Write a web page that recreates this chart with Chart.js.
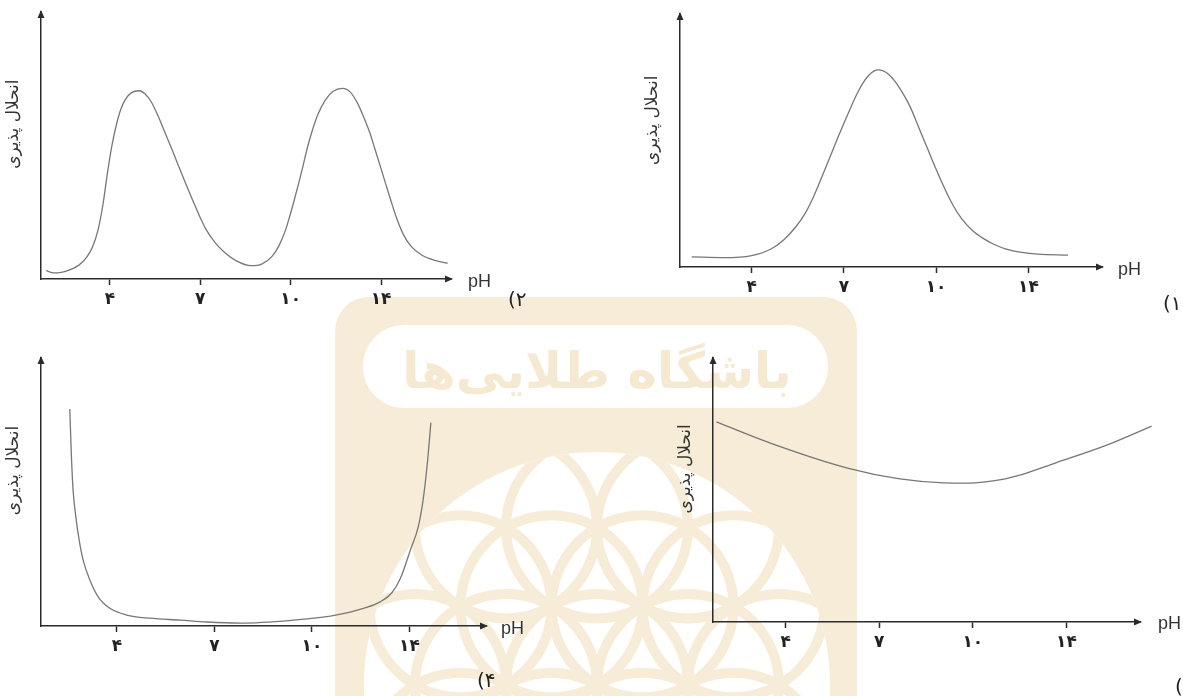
<!DOCTYPE html>
<html>
<head>
<meta charset="utf-8">
<script src="https://cdn.jsdelivr.net/npm/chart.js@4.4.1/dist/chart.umd.min.js"></script>
<style>
  html, body { margin: 0; padding: 0; background: #fff; }
  #stage { position: relative; width: 1183px; height: 696px; overflow: hidden; }
  #stage svg, #stage canvas { position: absolute; left: 0; top: 0; }
</style>
</head>
<body>
<div id="stage">
  <svg id="mark" width="1183" height="696" xmlns="http://www.w3.org/2000/svg">
    <defs><clipPath id="disk"><circle cx="597" cy="685" r="233"/></clipPath></defs>
    <rect x="335" y="297" width="522" height="460" rx="34" fill="#f7ecd7"/>
    <rect x="363" y="325" width="465" height="83" rx="41" fill="#fff"/>
    <text x="597" y="388" text-anchor="middle" direction="rtl" font-family="DejaVu Sans" font-weight="bold" font-size="50" fill="#f6e9d1">باشگاه طلایی‌ها</text>
    <circle cx="597" cy="685" r="233" fill="#fff"/>
    <g id="petals" clip-path="url(#disk)" fill="none" stroke="#f7ecd7" stroke-width="10"></g>
  </svg>
  <canvas id="c1" width="1183" height="696"></canvas>
  <canvas id="c2" width="1183" height="696"></canvas>
  <canvas id="c3" width="1183" height="696"></canvas>
  <canvas id="c4" width="1183" height="696"></canvas>
</div>
<script>
// x values are in tick steps: 0 = ۴, 1 = ۷, 2 = ۱۰, 3 = ۱۴ (ticks are evenly spaced)
const tickLabels = ['۴', '۷', '۱۰', '۱۴'];
const tickSteps = [0, 1, 2, 3];
const yTitle = 'انحلال پذیری';
const xTitle = 'pH';

// (۱) single peak
const p1X = [-0.65, -0.3, 0.0, 0.2, 0.35, 0.48, 0.58, 0.67, 0.76, 0.85, 0.95, 1.05, 1.13, 1.2, 1.27, 1.33, 1.37, 1.42, 1.48, 1.55, 1.63, 1.72, 1.81, 1.91, 2.0, 2.09, 2.18, 2.28, 2.4, 2.51, 2.63, 2.76, 2.93, 3.10, 3.43];
const p1Y = [4.0, 3.7, 4.5, 6.9, 10.8, 15.9, 21.2, 27.7, 35.5, 43.5, 52.5, 61.0, 67.5, 72.3, 75.8, 77.5, 77.9, 77.6, 76.3, 73.6, 69.2, 63.2, 55.3, 46.5, 38.6, 31.2, 24.6, 18.9, 14.2, 11.3, 8.9, 7.1, 5.8, 5.1, 4.7];

// (۲) two peaks
const p2X = [-0.705, -0.62, -0.553, -0.45, -0.343, -0.26, -0.191, -0.13, -0.076, -0.03, 0.02, 0.07, 0.12, 0.172, 0.24, 0.324, 0.39, 0.457, 0.53, 0.61, 0.69, 0.762, 0.84, 0.915, 0.99, 1.067, 1.16, 1.258, 1.40, 1.563, 1.68, 1.792, 1.87, 1.944, 1.99, 2.04, 2.09, 2.135, 2.18, 2.23, 2.30, 2.383, 2.47, 2.573, 2.66, 2.745, 2.81, 2.878, 2.935, 2.993, 3.05, 3.107, 3.17, 3.241, 3.33, 3.45, 3.584, 3.736];
const p2Y = [3.1, 2.3, 2.4, 3.3, 5.2, 8.0, 12.1, 18.5, 28.0, 39.0, 49.5, 57.5, 63.5, 67.3, 69.8, 70.5, 69.3, 66.4, 61.3, 54.8, 48.3, 42.1, 35.7, 29.6, 23.7, 18.4, 13.8, 10.3, 6.8, 5.0, 5.6, 8.4, 12.4, 18.4, 23.5, 29.6, 36.0, 42.1, 48.5, 54.6, 61.5, 67.0, 70.3, 71.4, 70.0, 65.5, 60.5, 54.6, 48.4, 42.1, 35.8, 29.6, 23.0, 17.1, 12.3, 9.0, 7.1, 5.9];

// (۳) shallow minimum
const p3X = [-0.74, -0.08, 0.66, 1.22, 1.69, 1.95, 2.3, 2.51, 2.88, 3.43, 3.91];
const p3Y = [75.8, 66.7, 58.3, 54.2, 52.7, 52.6, 53.9, 55.7, 60.2, 67.0, 74.2];

// (۴) U shape
const p4X = [-0.483, -0.466, -0.449, -0.421, -0.387, -0.346, -0.277, -0.192, -0.072, 0.10, 0.34, 0.65, 0.92, 1.27, 1.81, 2.19, 2.33, 2.53, 2.70, 2.82, 2.91, 3.01, 3.09, 3.14, 3.18, 3.22];
const p4Y = [81.0, 63.2, 50.7, 40.8, 32.1, 24.6, 17.2, 10.9, 6.6, 4.1, 2.9, 2.2, 1.5, 1.1, 2.2, 3.7, 4.7, 6.6, 9.0, 12.4, 18.0, 28.4, 37.0, 47.0, 59.4, 75.9];

// watermark flower (decoration only)
(function () {
  const g = document.getElementById('petals');
  const cx = 597, cy = 685, r = 91;
  const centres = [[0, 0]];
  for (let k = 0; k < 6; k++) {
    const a = k * Math.PI / 3, b = a + Math.PI / 6;
    centres.push([r * Math.cos(a), r * Math.sin(a)]);
    centres.push([2 * r * Math.cos(a), 2 * r * Math.sin(a)]);
    centres.push([Math.sqrt(3) * r * Math.cos(b), Math.sqrt(3) * r * Math.sin(b)]);
  }
  centres.forEach(([dx, dy]) => {
    const c = document.createElementNS('http://www.w3.org/2000/svg', 'circle');
    c.setAttribute('cx', cx + dx); c.setAttribute('cy', cy + dy); c.setAttribute('r', r);
    g.appendChild(c);
  });
  const dot = document.createElementNS('http://www.w3.org/2000/svg', 'circle');
  dot.setAttribute('cx', cx); dot.setAttribute('cy', cy); dot.setAttribute('r', 9);
  dot.setAttribute('fill', '#f7ecd7'); dot.setAttribute('stroke', 'none');
  g.appendChild(dot);
})();

const INK = '#2b2b2b';

const decor = {
  id: 'decor',
  afterDraw(chart, args, o) {
    const { ctx, chartArea: a } = chart;
    ctx.save();
    ctx.fillStyle = INK;
    // arrow heads
    ctx.beginPath();
    ctx.moveTo(a.left, a.top - 2);
    ctx.lineTo(a.left - 3.5, a.top + 6);
    ctx.lineTo(a.left + 3.5, a.top + 6);
    ctx.closePath();
    ctx.fill();
    ctx.beginPath();
    ctx.moveTo(a.right + 2, a.bottom);
    ctx.lineTo(a.right - 6, a.bottom - 3.5);
    ctx.lineTo(a.right - 6, a.bottom + 3.5);
    ctx.closePath();
    ctx.fill();
    // y title
    ctx.save();
    ctx.translate(a.left - 27, a.top + 0.42 * (a.bottom - a.top));
    ctx.rotate(-Math.PI / 2);
    ctx.direction = 'rtl';
    ctx.textAlign = 'center';
    ctx.textBaseline = 'middle';
    ctx.font = '17px "DejaVu Sans"';
    ctx.fillStyle = '#333';
    ctx.fillText(yTitle, 0, 0);
    ctx.restore();
    // pH
    ctx.direction = 'ltr';
    ctx.textAlign = 'left';
    ctx.textBaseline = 'middle';
    ctx.font = '18px "Liberation Sans"';
    ctx.fillStyle = '#333';
    ctx.fillText(xTitle, o.phX, o.phY);
    // panel number: bracket then digit, drawn left to right
    ctx.font = '20px "DejaVu Sans"';
    ctx.fillStyle = '#222';
    ctx.fillText('(', o.tagX, o.tagY);
    ctx.fillText(o.tag, o.tagX + ctx.measureText('(').width, o.tagY);
    ctx.restore();
  }
};

function makePanel(id, xs, ys, f, mode) {
  return new Chart(document.getElementById(id), {
    type: 'line',
    data: {
      datasets: [{
        data: xs.map((x, i) => ({ x: x, y: ys[i] })),
        borderColor: '#777',
        borderWidth: 1.3,
        pointRadius: 0,
        fill: false,
        tension: 0.4,
        cubicInterpolationMode: mode,
        clip: false
      }]
    },
    plugins: [decor],
    options: {
      responsive: false,
      animation: false,
      events: [],
      layout: {
        padding: { left: f.left, top: f.top, right: 1183 - f.right, bottom: 696 - f.axisY - 30 }
      },
      plugins: {
        legend: { display: false },
        tooltip: { enabled: false },
        decor: f
      },
      scales: {
        x: {
          type: 'linear',
          min: f.min,
          max: f.max,
          afterFit: s => { s.height = 30; },
          afterBuildTicks: s => { s.ticks = tickSteps.map(v => ({ value: v })); },
          ticks: {
            autoSkip: false,
            maxRotation: 0,
            padding: 4,
            color: '#222',
            font: { family: 'DejaVu Sans', size: 17, weight: 'bold' },
            callback: (v, i) => tickLabels[i]
          },
          grid: { drawOnChartArea: false, drawTicks: true, tickLength: 6, tickColor: INK, tickWidth: 1.5 },
          border: { display: true, color: INK, width: 1.5 }
        },
        y: {
          min: 0,
          max: 100,
          afterFit: s => { s.width = 0; },
          ticks: { display: false },
          grid: { drawOnChartArea: false, drawTicks: false },
          border: { display: true, color: INK, width: 1.5 }
        }
      }
    }
  });
}

makePanel('c1', p1X, p1Y, { left: 680, right: 1102, top: 14, axisY: 267, min: -0.776, max: 3.798, phX: 1118, phY: 270, tag: '۱', tagX: 1163, tagY: 305 }, 'monotone');
makePanel('c2', p2X, p2Y, { left: 41, right: 451, top: 12, axisY: 279, min: -0.762, max: 3.774, phX: 468, phY: 282, tag: '۲', tagX: 508, tagY: 301 }, 'monotone');
makePanel('c3', p3X, p3Y, { left: 713, right: 1140, top: 358, axisY: 622, min: -0.776, max: 3.786, phX: 1158, phY: 624, tag: '۳', tagX: 1175, tagY: 688 }, 'monotone');
makePanel('c4', p4X, p4Y, { left: 41, right: 486, top: 358, axisY: 626, min: -0.778, max: 3.785, phX: 501, phY: 629, tag: '۴', tagX: 477, tagY: 682 }, 'monotone');
</script>
</body>
</html>
